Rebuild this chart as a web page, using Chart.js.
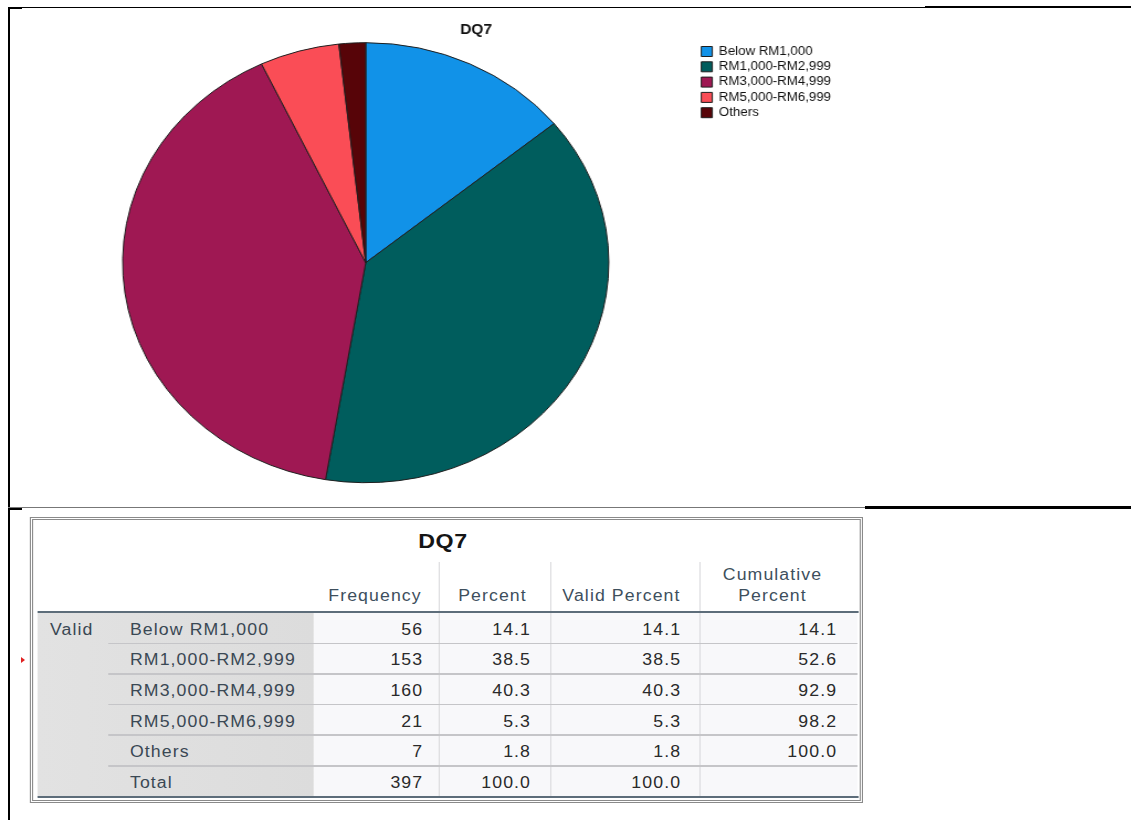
<!DOCTYPE html>
<html>
<head>
<meta charset="utf-8">
<script src="https://cdn.jsdelivr.net/npm/chart.js@4.4.1/dist/chart.umd.min.js"></script>
<style>
  html, body { margin: 0; padding: 0; background: #fff; width: 1131px; height: 820px; overflow: hidden; }
  .rule { position: absolute; background: #000; }
  /* the whole output view is rendered slightly wide, as in the exported viewer */
  #stage { position: absolute; left: 0; top: 0; width: 1024px; height: 820px; transform: scaleX(1.105); transform-origin: 0 0; }
  #pie { position: absolute; left: 9px; top: 10px; }
  .cell { position: absolute; font-family: 'Liberation Sans', Arial, sans-serif; font-size: 16px; letter-spacing: 1px; white-space: nowrap; }
  .blk { position: absolute; }
</style>
</head>
<body>
<!-- document frame lines -->
<div class="rule" style="left:8px;top:7px;width:2px;height:813px;"></div>
<div class="rule" style="left:8px;top:7px;width:917px;height:1px;"></div>
<div class="rule" style="left:925px;top:6px;width:206px;height:2px;"></div>
<div class="rule" style="left:8px;top:7px;width:14px;height:2px;"></div>
<div class="rule" style="left:8px;top:507px;width:857px;height:1px;background:#777;"></div>
<div class="rule" style="left:865px;top:506px;width:266px;height:3px;"></div>
<div class="rule" style="left:8px;top:508px;width:14px;height:2px;"></div>
<div style="position:absolute;left:21px;top:657px;width:0;height:0;border-left:4px solid #e02020;border-top:3px solid transparent;border-bottom:3px solid transparent;"></div>

<div id="stage">
  <canvas id="pie" width="822" height="480"></canvas>
</div>

<script>
// Income groups and their counts
const categories = ['Below RM1,000', 'RM1,000-RM2,999', 'RM3,000-RM4,999', 'RM5,000-RM6,999', 'Others'];
const frequency = [56, 153, 160, 21, 7];
const percent = [14.1, 38.5, 40.3, 5.3, 1.8];
const validPercent = [14.1, 38.5, 40.3, 5.3, 1.8];
const cumulativePercent = [14.1, 52.6, 92.9, 98.2, 100.0];
const totalRow = ['397', '100.0', '100.0', ''];
const headers = ['Frequency', 'Percent', 'Valid Percent', 'Cumulative\nPercent'];
const sliceColors = ['#1192e8', '#005d5d', '#9f1853', '#fa4d56', '#570408'];

Chart.defaults.font.family = "'Liberation Sans', Arial, sans-serif";

// empty layout box that keeps free space to the right of the legend
const rightGap = {
  id: 'rightGap',
  beforeInit(chart, args, opts) {
    const gap = opts.width || 0;
    Chart.layouts.addBox(chart, {
      position: 'right',
      weight: 2000,
      fullSize: false,
      options: {},
      isHorizontal() { return false; },
      update(maxWidth, maxHeight) { this.width = gap; this.height = maxHeight; },
      draw() {}
    });
  }
};

new Chart(document.getElementById('pie'), {
  type: 'pie',
  data: {
    labels: categories,
    datasets: [{
      label: 'DQ7',
      data: frequency,
      backgroundColor: sliceColors,
      borderColor: '#1e1e1e',
      borderWidth: 1,
      hoverBorderWidth: 1,
      hoverOffset: 0,
      offset: 0
    }]
  },
  options: {
    responsive: false,
    animation: false,
    devicePixelRatio: 1,
    events: [],
    layout: { padding: { left: 21.6, right: 0, top: 0, bottom: 6.8 } },
    plugins: {
      rightGap: { width: 69 },
      title: {
        display: true,
        text: 'DQ7',
        color: '#111',
        font: { size: 14, weight: 'bold', lineHeight: 1.2 },
        padding: { top: 11.6, bottom: 3.8 }
      },
      legend: {
        position: 'right',
        align: 'start',
        fullSize: false,
        labels: {
          boxWidth: 10,
          boxHeight: 10,
          padding: 3.3,
          color: '#111',
          font: { size: 12 }
        }
      },
      tooltip: { enabled: false }
    }
  },
  plugins: [rightGap]
});

// ---- frequency table ----
const stage = document.getElementById('stage');
function block(l, t, w, h, css) {
  const d = document.createElement('div');
  d.className = 'blk';
  d.style.cssText += `left:${l}px;top:${t}px;width:${w}px;height:${h}px;` + (css || '');
  stage.appendChild(d);
  return d;
}
function cell(str, l, t, w, h, align, color, css) {
  const d = document.createElement('div');
  d.className = 'cell';
  d.textContent = str;
  d.style.cssText += `left:${l}px;top:${t}px;width:${w}px;height:${h}px;line-height:${h}px;text-align:${align};color:${color};` + (css || '');
  stage.appendChild(d);
  return d;
}

const edges = [33.5, 97.7, 284.2, 397.3, 497.7, 632.6, 776.5];
const headTop = 562, bodyTop = 613, rowH = 30.6;
const nRows = categories.length + 1;
const bodyBottom = bodyTop + nRows * rowH;
const textDrop = 1.8;

// outer frame
block(27, 517, 754, 286, 'box-sizing:border-box;border:3px double #8a8a8a;background:#fff;');
// table caption
cell('DQ7', 300.9, 528, 200, 26, 'center', '#151515', 'font-size:21px;font-weight:bold;letter-spacing:0.5px;');

// body backgrounds
block(edges[0], bodyTop, edges[2] - edges[0], bodyBottom - bodyTop, 'background:linear-gradient(to right,#e2e2e2,#dcdcdc);');
block(edges[2], bodyTop, edges[6] - edges[2], bodyBottom - bodyTop, 'background:#f8f8fa;');

// vertical separators
[3, 4, 5].forEach(i => block(edges[i], headTop, 1, bodyBottom - headTop, 'background:#d9d9dc;'));

// row separators
for (let r = 1; r < nRows; r++) {
  block(edges[1], bodyTop + r * rowH - 1, edges[6] - edges[1], 1.5, 'background:#c5c5c8;');
}
// header rule and bottom rule
block(edges[0], bodyTop - 2, edges[6] - edges[0], 2, 'background:#5d6d7a;');
block(edges[0], bodyBottom - 1, edges[6] - edges[0], 2, 'background:#5d6d7a;');

// column headers
const headColor = '#3e4f5d';
const headCenters = [339.4, 445.7, 562.4, 699.1];
headers.forEach((h, i) => {
  const lines = h.split('\n');
  lines.forEach((ln, k) => {
    const top = 586 - (lines.length - 1 - k) * 21;
    cell(ln, headCenters[i] - 80, top, 160, 20, 'center', headColor);
  });
});

// body rows
const labelColor = '#3a4854';
const numColor = '#2a2a2a';
const valueRight = [383, 480.6, 616.4, 757.6];
cell('Valid', 45.2, bodyTop + textDrop, 60, rowH, 'left', labelColor);
const rowLabels = categories.concat(['Total']);
for (let r = 0; r < nRows; r++) {
  const top = bodyTop + r * rowH + textDrop;
  cell(rowLabels[r], 117.6, top, 170, rowH, 'left', labelColor);
  let vals;
  if (r < categories.length) {
    vals = [String(frequency[r]), percent[r].toFixed(1), validPercent[r].toFixed(1), cumulativePercent[r].toFixed(1)];
  } else {
    vals = totalRow;
  }
  vals.forEach((v, c) => {
    if (v !== '') cell(v, valueRight[c] - 100, top, 100, rowH, 'right', numColor);
  });
}
</script>
</body>
</html>
